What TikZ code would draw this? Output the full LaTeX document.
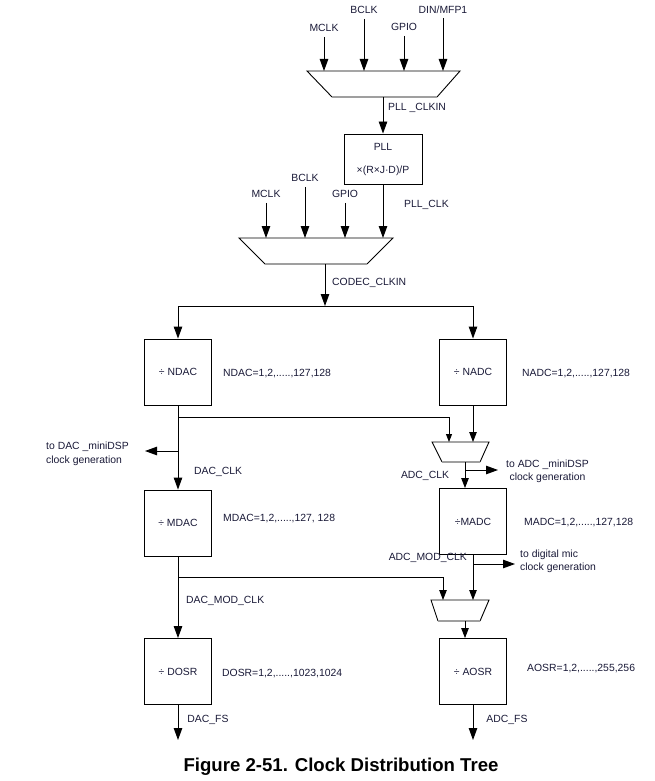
\documentclass[tikz,border=0pt]{standalone}
\usepackage{fontspec}
\setmainfont{Liberation Sans}
\usetikzlibrary{arrows.meta}
\definecolor{txt}{RGB}{25,25,55}
\begin{document}
\begin{tikzpicture}[x=1pt,y=-1pt,
  every node/.style={font=\fontsize{10.4}{12}\selectfont, text=txt},
  lbl/.style={inner sep=0pt, text height=7.4pt, text depth=0pt},
  two/.style={inner sep=0pt, font=\fontsize{10.4}{13.5}\selectfont},
  box/.style={draw, line width=0.9pt, minimum width=67pt, minimum height=66pt, inner sep=0pt},
  wire/.style={line width=0.9pt},
  arr/.style={wire, -{Triangle[length=12pt,width=8.5pt]}},
  marr/.style={wire, -{Triangle[length=10pt,width=7.5pt]}},
  sarr/.style={wire, -{Triangle[length=8pt,width=6pt]}},
  muxedge/.style={line width=0.9pt},
  muxbot/.style={line width=1.3pt, draw=gray!75}]
\useasboundingbox (0,0) rectangle (655,781);

% ---------- Mux 1 ----------
\coordinate (m1tl) at (307,71); \coordinate (m1tr) at (460,71);
\coordinate (m1br) at (437,97); \coordinate (m1bl) at (332,97);
\draw[muxedge] (m1bl) -- (m1tl) -- (m1tr) -- (m1br);
\draw[muxbot] (m1bl) -- (m1br);
\coordinate (m1out) at (383,97);

\node[lbl] (mclkA) at (324,28) {MCLK};
\node[lbl] (bclkA) at (364,10) {BCLK};
\node[lbl] (gpioA) at (404,27) {GPIO};
\node[lbl] (dinA) at (443,10) {DIN/MFP1};
\draw[arr] ([yshift=-5pt]mclkA.south) -- (mclkA |- m1tl);
\draw[arr] ([yshift=-5pt]bclkA.south) -- (bclkA |- m1tl);
\draw[arr] ([yshift=-5pt]gpioA.south) -- (gpioA |- m1tl);
\draw[arr] ([yshift=-4pt]dinA.south) -- (dinA |- m1tl);

% ---------- PLL ----------
\node[draw, line width=0.9pt, minimum width=78pt, minimum height=50pt, inner sep=0pt, align=center]
  (pll) at (383,159) {PLL\\[11pt]×(R×J·D)/P};
\draw[arr] (m1out) -- (pll.north);
\node[lbl, anchor=west] (pllclkin) at (388,107) {PLL \_CLKIN};

% ---------- Mux 2 ----------
\coordinate (m2tl) at (239,238); \coordinate (m2tr) at (393,238);
\coordinate (m2br) at (367,264); \coordinate (m2bl) at (265,264);
\draw[muxedge] (m2bl) -- (m2tl) -- (m2tr) -- (m2br);
\draw[muxbot] (m2bl) -- (m2br);
\coordinate (m2out) at (325,264);

\node[lbl] (mclkB) at (266,194) {MCLK};
\node[lbl] (bclkB) at (305,178) {BCLK};
\node[lbl] (gpioB) at (345,194) {GPIO};
\draw[arr] ([yshift=-5pt]mclkB.south) -- (mclkB |- m2tl);
\draw[arr] ([yshift=-5pt]bclkB.south) -- (bclkB |- m2tl);
\draw[arr] ([yshift=-5pt]gpioB.south) -- (gpioB |- m2tl);
\draw[arr] (pll.south) -- (pll.south |- m2tl);
\node[lbl, anchor=west] (pllclk) at (404,204) {PLL\_CLK};

% ---------- CODEC_CLKIN split ----------
\coordinate (split) at (325,306);
\draw[arr] (m2out) -- (split);
\node[lbl, anchor=west] (codecclkin) at (332,282) {CODEC\_CLKIN};

% ---------- Divider boxes ----------
\node[box] (ndac) at (178,372) {÷ NDAC};
\node[box] (nadc) at (473,372) {÷ NADC};
\node[box] (mdac) at (178,523) {÷ MDAC};
\node[box] (madc) at (473,521.5) {÷MADC};
\node[box] (dosr) at (178,671.5) {÷ DOSR};
\node[box] (aosr) at (473,671.5) {÷ AOSR};

\draw[wire] (ndac.north |- split) -- (nadc.north |- split);
\draw[arr] (split) -| (ndac.north);
\draw[arr] (split) -| (nadc.north);

\node[lbl, anchor=west] (ndacr) at (223,373) {NDAC=1,2,.....,127,128};
\node[lbl, anchor=west] (nadcr) at (522,373) {NADC=1,2,.....,127,128};
\node[lbl, anchor=west] (mdacr) at (223,518) {MDAC=1,2,.....,127, 128};
\node[lbl, anchor=west] (madcr) at (524,522) {MADC=1,2,.....,127,128};
\node[lbl, anchor=west] (dosrr) at (222,673) {DOSR=1,2,.....,1023,1024};
\node[lbl, anchor=west] (aosrr) at (527,668) {AOSR=1,2,.....,255,256};

% ---------- Mux 3 (ADC_CLK select) ----------
\coordinate (m3tl) at (432,442); \coordinate (m3tr) at (489,442);
\coordinate (m3br) at (480,462); \coordinate (m3bl) at (442,462);
\draw[muxedge] (m3bl) -- (m3tl) -- (m3tr) -- (m3br);
\draw[muxbot] (m3bl) -- (m3br);
\coordinate (m3inL) at (449,442);
\coordinate (m3out) at (465,462);

% DAC clock path
\coordinate (dA) at (178,417);
\coordinate (dB) at (178,451);
\coordinate (dacmini) at (145,451);
\draw[arr] (ndac.south) -- (mdac.north);
\draw[sarr] (dA) -| (m3inL);
\draw[arr] (dB) -- (dacmini);
\node[two, anchor=west, align=left] (dacminit) at (46,454) {to DAC \_miniDSP\\clock generation};
\node[lbl, anchor=west] (dacclk) at (194,471) {DAC\_CLK};

% ADC clock path
\draw[marr] (nadc.south) -- (nadc.south |- m3tl);
\coordinate (aJ) at (465,470);
\coordinate (adcmini) at (498,470);
\draw[marr] (m3out) -- (m3out |- madc.north);
\draw[arr] (aJ) -- (adcmini);
\node[two, anchor=west, align=center] (adcminit) at (506,471.5) {to ADC \_miniDSP\\clock generation};
\node[lbl] (adcclk) at (425,475) {ADC\_CLK};

% ---------- Mux 4 (ADC_MOD_CLK select) ----------
\coordinate (m4tl) at (431,600); \coordinate (m4tr) at (489,600);
\coordinate (m4br) at (480,621); \coordinate (m4bl) at (438,621);
\draw[muxedge] (m4bl) -- (m4tl) -- (m4tr) -- (m4br);
\draw[muxbot] (m4bl) -- (m4br);
\coordinate (m4inL) at (443,600);
\coordinate (m4out) at (465,621);

% DAC_MOD_CLK
\coordinate (dC) at (178,577);
\draw[arr] (mdac.south) -- (dosr.north);
\draw[marr] (dC) -| (m4inL);
\node[lbl, anchor=west] (dacmodclk) at (186,600) {DAC\_MOD\_CLK};

% ADC_MOD_CLK
\coordinate (aK) at (473,564);
\coordinate (micout) at (515,564);
\draw[marr] (madc.south) -- (madc.south |- m4tl);
\draw[arr] (aK) -- (micout);
\node[two, anchor=west, align=left] (mict) at (520,561.5) {to digital mic\\clock generation};
\node[lbl, anchor=east] (adcmodclk) at (467,557) {ADC\_MOD\_CLK};
\draw[marr] (m4out) -- (m4out |- aosr.north);

% ---------- Outputs ----------
\coordinate (dacfs) at (178,740);
\coordinate (adcfs) at (473,740);
\draw[arr] (dosr.south) -- (dacfs);
\draw[arr] (aosr.south) -- (adcfs);
\node[lbl] (dacfsl) at (208,719) {DAC\_FS};
\node[lbl] (adcfsl) at (507,719) {ADC\_FS};

% ---------- Title ----------
\node[anchor=base, inner sep=0pt, text=black, font=\bfseries\fontsize{18.6}{20}\selectfont]
  (title) at (341,771) {Figure 2-51. Clock Distribution Tree};
\end{tikzpicture}
\end{document}
